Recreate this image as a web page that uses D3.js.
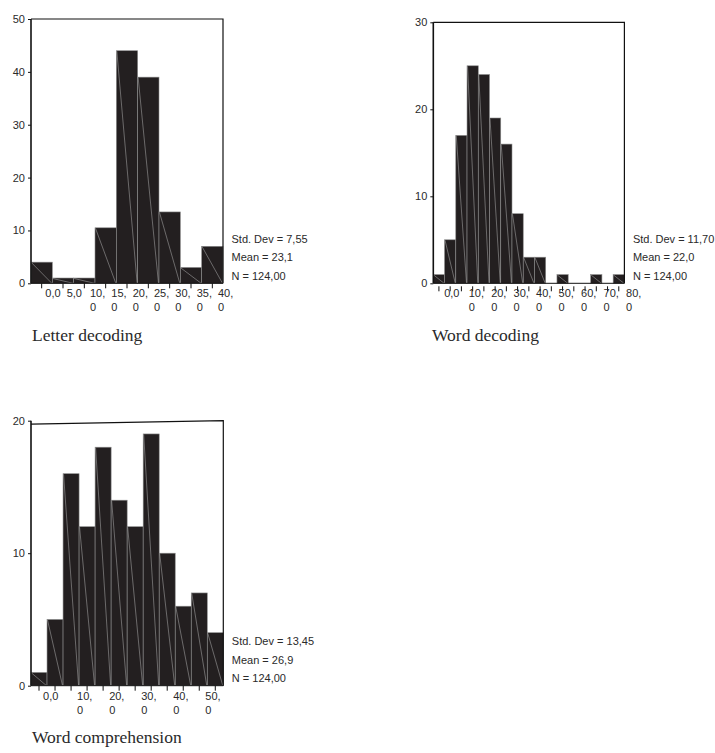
<!DOCTYPE html>
<html>
<head>
<meta charset="utf-8">
<script src="https://cdn.jsdelivr.net/npm/d3@7"></script>
<style>
  html, body { margin: 0; padding: 0; background: #fff; }
  svg { display: block; }
</style>
</head>
<body>
<svg id="chart" width="715" height="753"></svg>
<script>
// Histogram counts per bin (bin width 5)
const letterCounts = [4, 1, 1, 10.5, 44, 39, 13.5, 3, 7];
const wordDecodingCounts = [1, 5, 17, 25, 24, 19, 16, 8, 3, 3, 0, 1, 0, 0, 1, 0, 1];
const wordComprehensionCounts = [1, 5, 16, 12, 18, 14, 12, 19, 10, 6, 7, 4];

// X tick label values
const letterLabels = [0, 5, 10, 15, 20, 25, 30, 35, 40];
const wordDecodingLabels = [0, 10, 20, 30, 40, 50, 60, 70, 80];
const wordComprehensionLabels = [0, 10, 20, 30, 40, 50];

// Y axis ticks
const letterYTicks = [0, 10, 20, 30, 40, 50];
const wordDecodingYTicks = [0, 10, 20, 30];
const wordComprehensionYTicks = [0, 10, 20];

// Summary statistics
const letterStats = ["Std. Dev = 7,55", "Mean = 23,1", "N = 124,00"];
const wordDecodingStats = ["Std. Dev = 11,70", "Mean = 22,0", "N = 124,00"];
const wordComprehensionStats = ["Std. Dev = 13,45", "Mean = 26,9", "N = 124,00"];

const panels = [
  { title: "Letter decoding", counts: letterCounts, labels: letterLabels, yTicks: letterYTicks,
    stats: letterStats, binStart: -5, binWidth: 5,
    box: { x0: 31, x1: 223, y0: 19, y1: 283.3 }, labelDx: -5, tickGap: 0, topDrop: 0,
    titlePos: [32, 341] },
  { title: "Word decoding", counts: wordDecodingCounts, labels: wordDecodingLabels, yTicks: wordDecodingYTicks,
    stats: wordDecodingStats, binStart: -7.5, binWidth: 5,
    box: { x0: 433.3, x1: 624.4, y0: 22.3, y1: 283.3 }, labelDx: -4, tickGap: 3, topDrop: 0,
    titlePos: [432, 341] },
  { title: "Word comprehension", counts: wordComprehensionCounts, labels: wordComprehensionLabels, yTicks: wordComprehensionYTicks,
    stats: wordComprehensionStats, binStart: -5, binWidth: 5,
    box: { x0: 31, x1: 223.3, y0: 420.7, y1: 685.7 }, labelDx: -2, tickGap: 0, topDrop: 3.5,
    titlePos: [32, 743] }
];

const svg = d3.select("#chart");
const sans = "'Liberation Sans', Arial, Helvetica, sans-serif";
const serif = "'Liberation Serif', 'Times New Roman', serif";
const ink = "#231f20";
const textInk = "#2a2a2a";

const fmt = v => String(v) + ",0";

panels.forEach(p => {
  const { x0, x1, y0, y1 } = p.box;
  const n = p.counts.length;
  const x = d3.scaleLinear()
    .domain([p.binStart, p.binStart + n * p.binWidth])
    .range([x0, x1]);
  const yMax = p.yTicks[p.yTicks.length - 1];
  const y = d3.scaleLinear().domain([0, yMax]).range([y1, y0]);

  const g = svg.append("g");

  const bins = p.counts.map((c, i) => ({
    a: p.binStart + i * p.binWidth,
    b: p.binStart + (i + 1) * p.binWidth,
    c
  }));

  // bars
  g.selectAll("rect.bar").data(bins.filter(d => d.c > 0)).join("rect")
    .attr("class", "bar")
    .attr("x", d => x(d.a))
    .attr("width", d => x(d.b) - x(d.a))
    .attr("y", d => y(d.c))
    .attr("height", d => y(0) - y(d.c))
    .attr("fill", ink)
    .attr("stroke", "#8c8c8c")
    .attr("stroke-width", 0.6);

  // fine diagonal rule inside each bar
  g.selectAll("line.diag").data(bins.filter(d => d.c > 0)).join("line")
    .attr("class", "diag")
    .attr("x1", d => x(d.a) + 0.5)
    .attr("y1", d => y(d.c) + 0.5)
    .attr("x2", d => x(d.b) - 0.5)
    .attr("y2", y(0))
    .attr("stroke", "#a8a8a8")
    .attr("stroke-width", 0.55);

  // frame
  g.append("path")
    .attr("d", `M${x0},${y0 + p.topDrop} L${x1},${y0} L${x1},${y1}`)
    .attr("fill", "none").attr("stroke", "#111").attr("stroke-width", 1.2);
  g.append("line")
    .attr("x1", x0).attr("x2", x1).attr("y1", y1).attr("y2", y1)
    .attr("stroke", "#111").attr("stroke-width", 1);
  g.append("line")
    .attr("x1", x0).attr("x2", x0).attr("y1", y0).attr("y2", y1)
    .attr("stroke", "#111").attr("stroke-width", 1.6);

  // y axis
  const yAxis = d3.axisLeft(y).tickValues(p.yTicks).tickSize(3).tickPadding(3)
    .tickFormat(d3.format("d"));
  const ya = g.append("g").attr("transform", `translate(${x0},0)`).call(yAxis);
  ya.select(".domain").remove();
  ya.selectAll(".tick line").attr("stroke", "#111").attr("stroke-width", 1);
  ya.selectAll(".tick text")
    .attr("font-family", sans).attr("font-size", 11).attr("fill", textInk);

  // x tick marks at bin centres
  const centers = bins.map(d => (d.a + d.b) / 2);
  g.selectAll("line.xt").data(centers).join("line")
    .attr("class", "xt")
    .attr("x1", d => x(d)).attr("x2", d => x(d))
    .attr("y1", y1 + p.tickGap).attr("y2", y1 + p.tickGap + 5)
    .attr("stroke", "#111").attr("stroke-width", 1);

  // x tick labels (wrapped after the comma when they are too wide)
  const lab = g.selectAll("text.xl").data(p.labels).join("text")
    .attr("class", "xl")
    .attr("font-family", sans).attr("font-size", 11).attr("fill", textInk)
    .attr("text-anchor", "start");
  lab.each(function (v) {
    const t = d3.select(this);
    const s = fmt(v);
    const px = x(v) + p.labelDx;
    if (v >= 10) {
      const parts = s.split(",");
      t.append("tspan").attr("x", px).attr("y", y1 + 14).text(parts[0] + ",");
      t.append("tspan").attr("x", px).attr("y", y1 + 28).text(parts[1]);
    } else {
      t.append("tspan").attr("x", px - 2).attr("y", y1 + 14).text(s);
    }
  });

  // summary statistics
  const offs = [-40.5, -22, -3.8];
  g.selectAll("text.st").data(p.stats).join("text")
    .attr("class", "st")
    .attr("x", x1 + 8.5)
    .attr("y", (d, i) => y1 + offs[i])
    .attr("font-family", sans).attr("font-size", 11).attr("fill", textInk)
    .text(d => d);

  // caption
  g.append("text")
    .attr("x", p.titlePos[0]).attr("y", p.titlePos[1])
    .attr("font-family", serif).attr("font-size", 17.5).attr("fill", textInk)
    .text(p.title);
});
</script>
</body>
</html>
